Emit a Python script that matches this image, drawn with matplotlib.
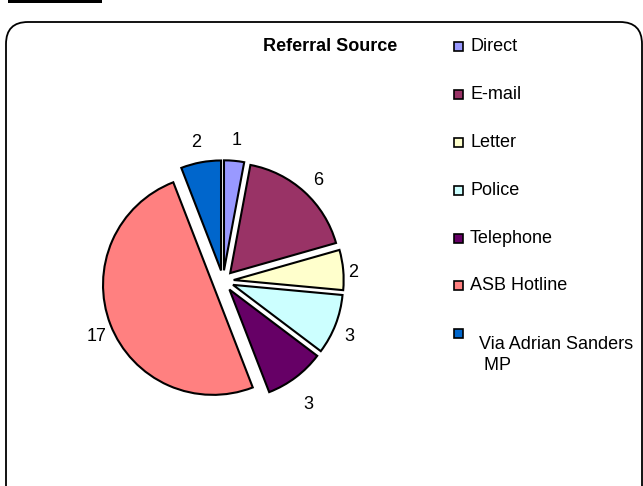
import numpy as np
import matplotlib
matplotlib.use("Agg")
import matplotlib.pyplot as plt
from matplotlib.patches import FancyBboxPatch, Rectangle

plt.rcParams['font.family'] = ['Liberation Sans', 'DejaVu Sans']

categories = ["Direct", "E-mail", "Letter", "Police", "Telephone", "ASB Hotline", "Via Adrian Sanders\n MP"]
values = [1, 6, 2, 3, 3, 17, 2]
colors = ["#9999FF", "#993366", "#FFFFCC", "#CCFFFF", "#660066", "#FF8080", "#0066CC"]
title = "Referral Source"

W, H = 643, 486
fig = plt.figure(figsize=(W / 100, H / 100), dpi=100)
ax = fig.add_axes([0, 0, 1, 1])

# chart border (rounded, extends past bottom)
rad = 22
ax.add_patch(FancyBboxPatch((6 + rad, -40), 642 - 6 - 2 * rad, 464 + 40 - rad,
                            boxstyle="round,pad=%d" % rad,
                            fc="white", ec="black", lw=1.3, zorder=0))
# cut-off black bar at top-left
ax.add_patch(Rectangle((8, H - 3), 94, 3, fc="black", ec="none", zorder=1))

cx, cy, r = 223, 205, 110
explode_px = 10.7
wedges, _ = ax.pie(values, colors=colors, startangle=90, counterclock=False,
                   explode=[explode_px] * len(values), radius=r, center=(cx, cy),
                   wedgeprops=dict(edgecolor="black", linewidth=1.5), frame=True)

# value labels
total = sum(values)
cum = 0
for v in values:
    th = np.deg2rad((cum + v / 2) / total * 360)
    cum += v
    dx, dy = np.sin(th), np.cos(th)
    ex, ey = cx + explode_px * dx, cy + explode_px * dy
    L = r * (1.08 + 0.14 * abs(dy))
    ty = ey + L * dy - (4 + 8 * max(0.0, -dy))
    ax.text(ex + L * dx, ty, str(v), ha="center", va="center", fontsize=13)

# title
ax.text(330, H - 47, title, ha="center", va="center", fontsize=13, fontweight="bold")

# legend
for i, (lab, col) in enumerate(zip(categories, colors)):
    y = H - (47 + 47.8 * i)
    ax.add_patch(Rectangle((454, y - 4.5), 9, 9, fc=col, ec="black", lw=1.2, zorder=3))
    if "\n" in lab:
        ax.text(479, y - 2, lab, ha="left", va="top", fontsize=13, linespacing=1.3)
    else:
        ax.text(470, y, lab, ha="left", va="center", fontsize=13)

ax.set_xlim(0, W)
ax.set_ylim(0, H)
ax.set_aspect("auto")
ax.axis("off")
fig.savefig("out.png", dpi=100)
